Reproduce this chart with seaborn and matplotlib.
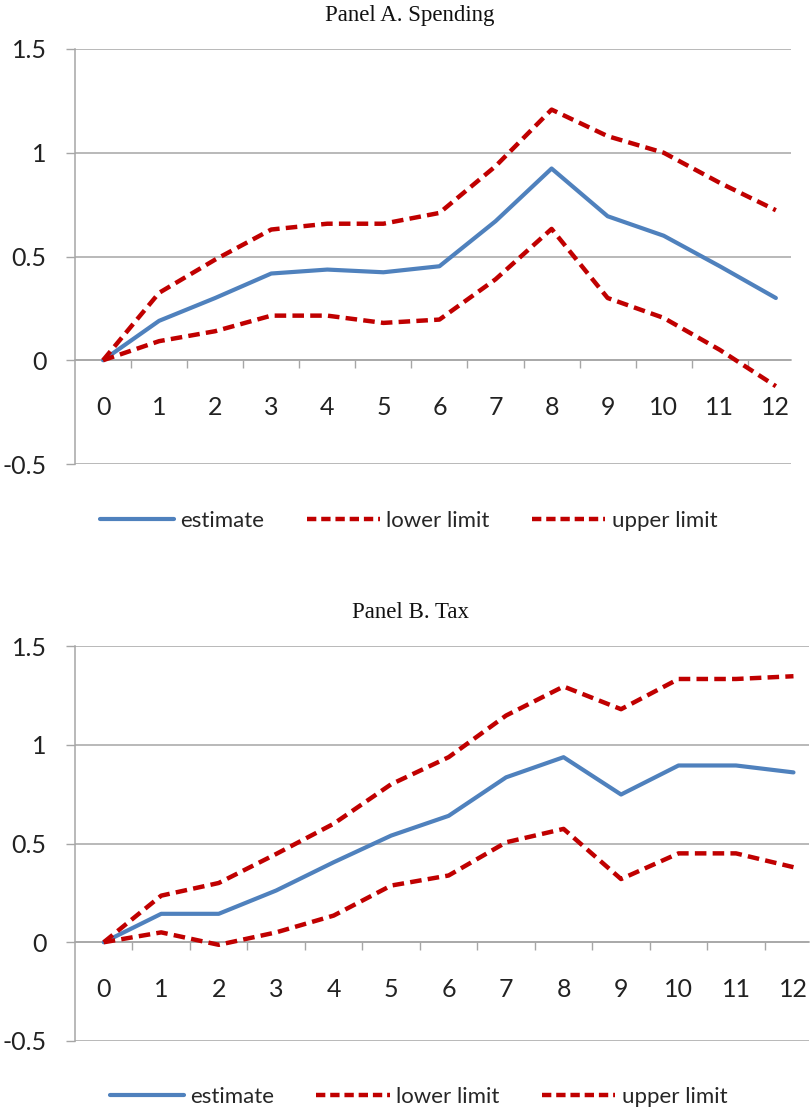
import matplotlib
matplotlib.use("Agg")
import matplotlib.pyplot as plt
from matplotlib.lines import Line2D
import seaborn as sns
import pandas as pd
import numpy as np

# Horizons (quarters after the shock)
horizon = list(range(13))

# Panel A: spending multiplier
spend_est = [0.0, 0.19, 0.30, 0.418, 0.437, 0.424, 0.453, 0.67, 0.924, 0.694, 0.60, 0.453, 0.30]
spend_lo = [0.0, 0.092, 0.14, 0.215, 0.215, 0.18, 0.196, 0.39, 0.633, 0.30, 0.204, 0.05, -0.125]
spend_hi = [0.0, 0.325, 0.485, 0.63, 0.658, 0.658, 0.71, 0.935, 1.208, 1.08, 1.0, 0.855, 0.723]

# Panel B: tax multiplier
tax_est = [0.0, 0.144, 0.144, 0.262, 0.405, 0.54, 0.64, 0.835, 0.937, 0.748, 0.895, 0.895, 0.86]
tax_lo = [0.0, 0.05, -0.013, 0.05, 0.135, 0.287, 0.338, 0.506, 0.574, 0.32, 0.45, 0.45, 0.38]
tax_hi = [0.0, 0.236, 0.30, 0.447, 0.60, 0.80, 0.937, 1.148, 1.295, 1.18, 1.333, 1.333, 1.347]

y_ticks = [-0.5, 0, 0.5, 1, 1.5]
y_ticklabels = ["-0.5", "0", "0.5", "1", "1.5"]
series_names = ["estimate", "lower limit", "upper limit"]
panel_titles = ["Panel A. Spending", "Panel B. Tax"]

BLUE = "#4F81BD"
RED = "#C00000"
GRID = "#A6A6A6"
SANS = ["Lato", "DejaVu Sans"]
SERIF = ["Liberation Serif", "DejaVu Serif"]

sns.set_theme(style="white")
plt.rcParams["font.family"] = SANS

W, H = 810, 1112
fig = plt.figure(figsize=(W / 100, H / 100), dpi=100)


def px_axes(left, top, right, bottom):
    return fig.add_axes([left / W, 1 - bottom / H, (right - left) / W, (bottom - top) / H])


def draw_panel(ax, est, lo, hi):
    df = pd.DataFrame({"h": horizon, "estimate": est, "lower limit": lo, "upper limit": hi})
    sns.lineplot(data=df, x="h", y="lower limit", ax=ax, color=RED, lw=3.2,
                 dashes=False, legend=False)
    sns.lineplot(data=df, x="h", y="upper limit", ax=ax, color=RED, lw=3.2,
                 dashes=False, legend=False)
    sns.lineplot(data=df, x="h", y="estimate", ax=ax, color=BLUE, lw=3.0,
                 legend=False, zorder=3)
    for ln in ax.lines[:2]:
        ln.set_dashes((2.6, 1.4))
        ln.set_dash_capstyle("butt")
        ln.set_zorder(4)

    ax.set_xlim(-0.5, 12.27)
    ax.set_ylim(-0.5, 1.5)
    ax.set_xlabel("")
    ax.set_ylabel("")

    # y axis with gridlines
    ax.set_yticks(y_ticks)
    ax.set_yticklabels(y_ticklabels)
    ax.yaxis.grid(True, color=GRID, lw=1.1)
    ax.set_axisbelow(True)
    ax.tick_params(axis="y", length=6.5, width=1.0, color=GRID, pad=14,
                   labelsize=18, labelcolor="#222222", left=True, direction="out")

    # category axis crossing at zero, ticks between categories
    ax.spines["bottom"].set_position(("data", 0))
    ax.spines["bottom"].set_color(GRID)
    ax.spines["bottom"].set_linewidth(1.1)
    ax.spines["left"].set_color(GRID)
    ax.spines["left"].set_linewidth(1.1)
    ax.spines["top"].set_visible(False)
    ax.spines["right"].set_visible(False)
    ax.set_xticks(horizon)
    ax.set_xticklabels([str(h) for h in horizon])
    ax.set_xticks(np.arange(0.5, 12, 1.0), minor=True)
    ax.tick_params(axis="x", which="major", length=0, pad=25.5, labelsize=18,
                   labelcolor="#222222", bottom=True)
    ax.tick_params(axis="x", which="minor", length=6, width=1.0, color=GRID,
                   bottom=True, direction="out")


axA = px_axes(75, 49, 791, 464)
draw_panel(axA, spend_est, spend_lo, spend_hi)
axB = px_axes(75, 646, 809, 1041)
draw_panel(axB, tax_est, tax_lo, tax_hi)

fig.text(410 / W, 1 - 16 / H, panel_titles[0], ha="center", va="center",
         fontsize=16.5, family=SERIF, color="#111111")
fig.text(411 / W, 1 - 612 / H, panel_titles[1], ha="center", va="center",
         fontsize=16.5, family=SERIF, color="#111111")

# legend keys: solid blue and short red dashes
legend_keys = [
    Line2D([], [], color=BLUE, lw=3.0),
    Line2D([], [], color=RED, lw=3.2, dashes=(2.1, 1.1), dash_capstyle="butt"),
    Line2D([], [], color=RED, lw=3.2, dashes=(2.1, 1.1), dash_capstyle="butt"),
]

for ly, lx in [(521, 409), (1097, 419)]:
    fig.legend(legend_keys, series_names, loc="center", bbox_to_anchor=(lx / W, 1 - ly / H),
               ncol=3, frameon=False, handlelength=3.3,
               handletextpad=0.3, columnspacing=1.9,
               prop={"family": SANS, "size": 16})

fig.savefig("out.png", dpi=100, facecolor="white")
